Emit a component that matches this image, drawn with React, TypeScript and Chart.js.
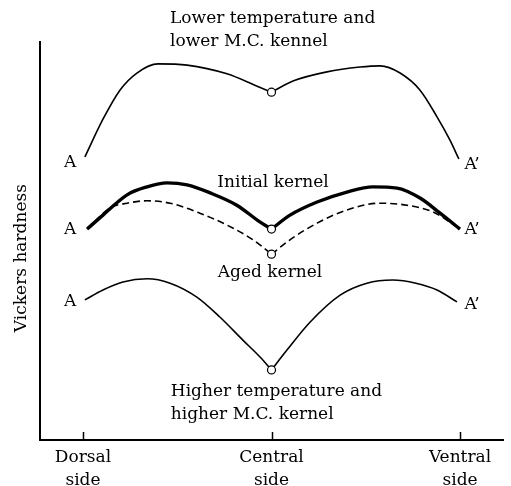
import { useEffect, useRef } from 'react';
import { Chart, registerables } from 'chart.js';

Chart.register(...registerables);

// Category ticks along the kernel section
const categories = ['Dorsal\nside', 'Central\nside', 'Ventral\nside'];
const categoryX = [0, 50, 100];

// Lower temperature and lower M.C. kernel
const upperX = [0.5, 5.3, 9.8, 14.3, 19.9, 27.6, 38.2, 46.2, 50, 55.7, 64.7, 73.5, 78.8, 84.1, 89.4, 93.9, 97.3, 99.7];
const upperY = [71.1, 80.6, 87.9, 92.2, 94.5, 94.2, 92.0, 88.9, 87.4, 90.2, 92.5, 93.7, 94.0, 92.2, 87.9, 81.2, 75.4, 70.6];

// Initial kernel
const initialX = [1.1, 5.3, 11.7, 17.0, 22.3, 27.6, 33.7, 40.8, 46.9, 50, 54.9, 62.1, 70.0, 76.9, 83.3, 89.4, 94.7, 100];
const initialY = [53.0, 56.5, 61.6, 63.6, 64.6, 64.1, 62.1, 59.0, 54.8, 53.0, 56.5, 59.8, 62.3, 63.6, 63.3, 60.8, 57.0, 53.0];

// Aged kernel
const agedX = [1.1, 7.2, 11.7, 17.0, 23.1, 31.0, 38.2, 45.1, 50, 54.9, 62.1, 70.0, 78.8, 85.9, 92.8, 100];
const agedY = [53.0, 58.3, 59.5, 60.1, 59.5, 57.0, 54.0, 50.3, 46.7, 50.3, 54.5, 57.8, 59.5, 59.0, 57.3, 53.0];

// Higher temperature and higher M.C. kernel
const lowerX = [0.5, 5.3, 10.6, 17.0, 23.1, 30.2, 36.3, 42.4, 46.9, 50, 54.1, 60.2, 68.2, 75.3, 82.2, 88.3, 93.9, 99.2];
const lowerY = [35.2, 37.7, 39.7, 40.5, 39.4, 35.9, 30.9, 25.1, 20.9, 17.6, 22.6, 29.6, 36.4, 39.4, 40.2, 39.4, 37.7, 34.7];

// Annotation texts
const noteText = [
  'Lower temperature and',
  'lower M.C. kennel',
  'Initial kernel',
  'Aged kernel',
  'Higher temperature and',
  'higher M.C. kernel',
  'A', 'A', 'A',
  'A\u2019', 'A\u2019', 'A\u2019',
];
const noteX = [23.1, 23.1, 50.4, 49.6, 23.3, 23.3, -3.4, -3.4, -3.4, 103.2, 103.2, 103.2];
const noteY = [105.8, 100.0, 64.8, 42.0, 12.1, 6.3, 69.8, 52.8, 34.7, 69.3, 52.8, 33.9];
const noteAlign: CanvasTextAlign[] = ['left', 'left', 'center', 'center', 'left', 'left', 'center', 'center', 'center', 'center', 'center', 'center'];

const yTitle = 'Vickers hardness';
const yTitleAt = 45.7;

const FONT = '"DejaVu Serif", "Liberation Serif", serif';

function toPoints(xs: number[], ys: number[]) {
  return xs.map((x, i) => ({ x, y: ys[i] }));
}

function halves(xs: number[], ys: number[]) {
  const c = xs.indexOf(50);
  const pts = toPoints(xs, ys);
  return [pts.slice(0, c + 1), pts.slice(c)];
}

const annotPlugin = {
  id: 'annot',
  afterDatasetsDraw(chart: any) {
    const { ctx, scales } = chart;
    const x = scales.x;
    const y = scales.y;
    ctx.save();
    ctx.strokeStyle = '#000';
    ctx.lineWidth = 1.5;
    categoryX.forEach((v) => {
      const px = Math.round(x.getPixelForValue(v)) + 0.5;
      ctx.beginPath();
      ctx.moveTo(px, y.bottom);
      ctx.lineTo(px, y.bottom - 8);
      ctx.stroke();
    });
    ctx.fillStyle = '#000';
    ctx.font = `17px ${FONT}`;
    ctx.textBaseline = 'middle';
    noteText.forEach((t, i) => {
      ctx.textAlign = noteAlign[i];
      ctx.fillText(t, x.getPixelForValue(noteX[i]), y.getPixelForValue(noteY[i]));
    });
    ctx.translate(22, y.getPixelForValue(yTitleAt));
    ctx.rotate(-Math.PI / 2);
    ctx.textAlign = 'center';
    ctx.font = `17px ${FONT}`;
    ctx.fillText(yTitle, 0, 0);
    ctx.restore();
  },
};

export default function App() {
  const ref = useRef<HTMLCanvasElement>(null);

  useEffect(() => {
    if (!ref.current) return;
    const [uL, uR] = halves(upperX, upperY);
    const [iL, iR] = halves(initialX, initialY);
    const [aL, aR] = halves(agedX, agedY);
    const [lL, lR] = halves(lowerX, lowerY);
    const base = { pointRadius: 0, borderColor: '#000', fill: false, cubicInterpolationMode: 'monotone', order: 1 };
    const thin = { ...base, borderWidth: 1.6 };
    const cIdx = (xs: number[]) => xs.indexOf(50);
    const centres = [
      { x: 50, y: upperY[cIdx(upperX)] },
      { x: 50, y: initialY[cIdx(initialX)] },
      { x: 50, y: agedY[cIdx(agedX)] },
      { x: 50, y: lowerY[cIdx(lowerX)] },
    ];
    const chart = new Chart(ref.current, {
      type: 'line',
      data: {
        datasets: [
          { ...thin, data: uL },
          { ...thin, data: uR },
          { ...base, borderWidth: 3.4, data: iL },
          { ...base, borderWidth: 3.4, data: iR },
          { ...thin, borderDash: [7, 4], data: aL },
          { ...thin, borderDash: [7, 4], data: aR },
          { ...thin, data: lL },
          { ...thin, data: lR },
          {
            data: centres,
            showLine: false,
            pointRadius: 4,
            pointBackgroundColor: '#fff',
            pointBorderColor: '#000',
            pointBorderWidth: 1.2,
            order: 0,
          },
        ] as any,
      },
      options: {
        animation: false,
        responsive: false,
        devicePixelRatio: 1,
        layout: { padding: { left: 0, top: 42, right: 8, bottom: 0 } },
        plugins: { legend: { display: false }, tooltip: { enabled: false } },
        scales: {
          x: {
            type: 'linear',
            min: -11.4,
            max: 111.4,
            grid: { display: false, drawTicks: false },
            border: { display: true, color: '#000', width: 2 },
            afterBuildTicks: (s: any) => {
              s.ticks = categoryX.map((v) => ({ value: v }));
            },
            afterFit: (s: any) => {
              s.height = 46;
            },
            ticks: {
              color: '#000',
              padding: 6,
              maxRotation: 0,
              autoSkip: false,
              font: { family: FONT, size: 17, lineHeight: 1.35 },
              callback: (v: any) => {
                const i = categoryX.indexOf(Number(v));
                return i >= 0 ? categories[i].split('\n') : '';
              },
            },
          },
          y: {
            type: 'linear',
            min: 0,
            max: 100,
            grid: { display: false, drawTicks: false },
            border: { display: true, color: '#000', width: 2 },
            ticks: { display: false },
            afterFit: (s: any) => {
              s.width = 40;
            },
          },
        },
      } as any,
      plugins: [annotPlugin],
    });
    return () => chart.destroy();
  }, []);

  return (
    <div style={{ position: 'fixed', left: 0, top: 0, width: 511, height: 486, background: '#fff' }}>
      <canvas ref={ref} width={511} height={486} />
    </div>
  );
}
